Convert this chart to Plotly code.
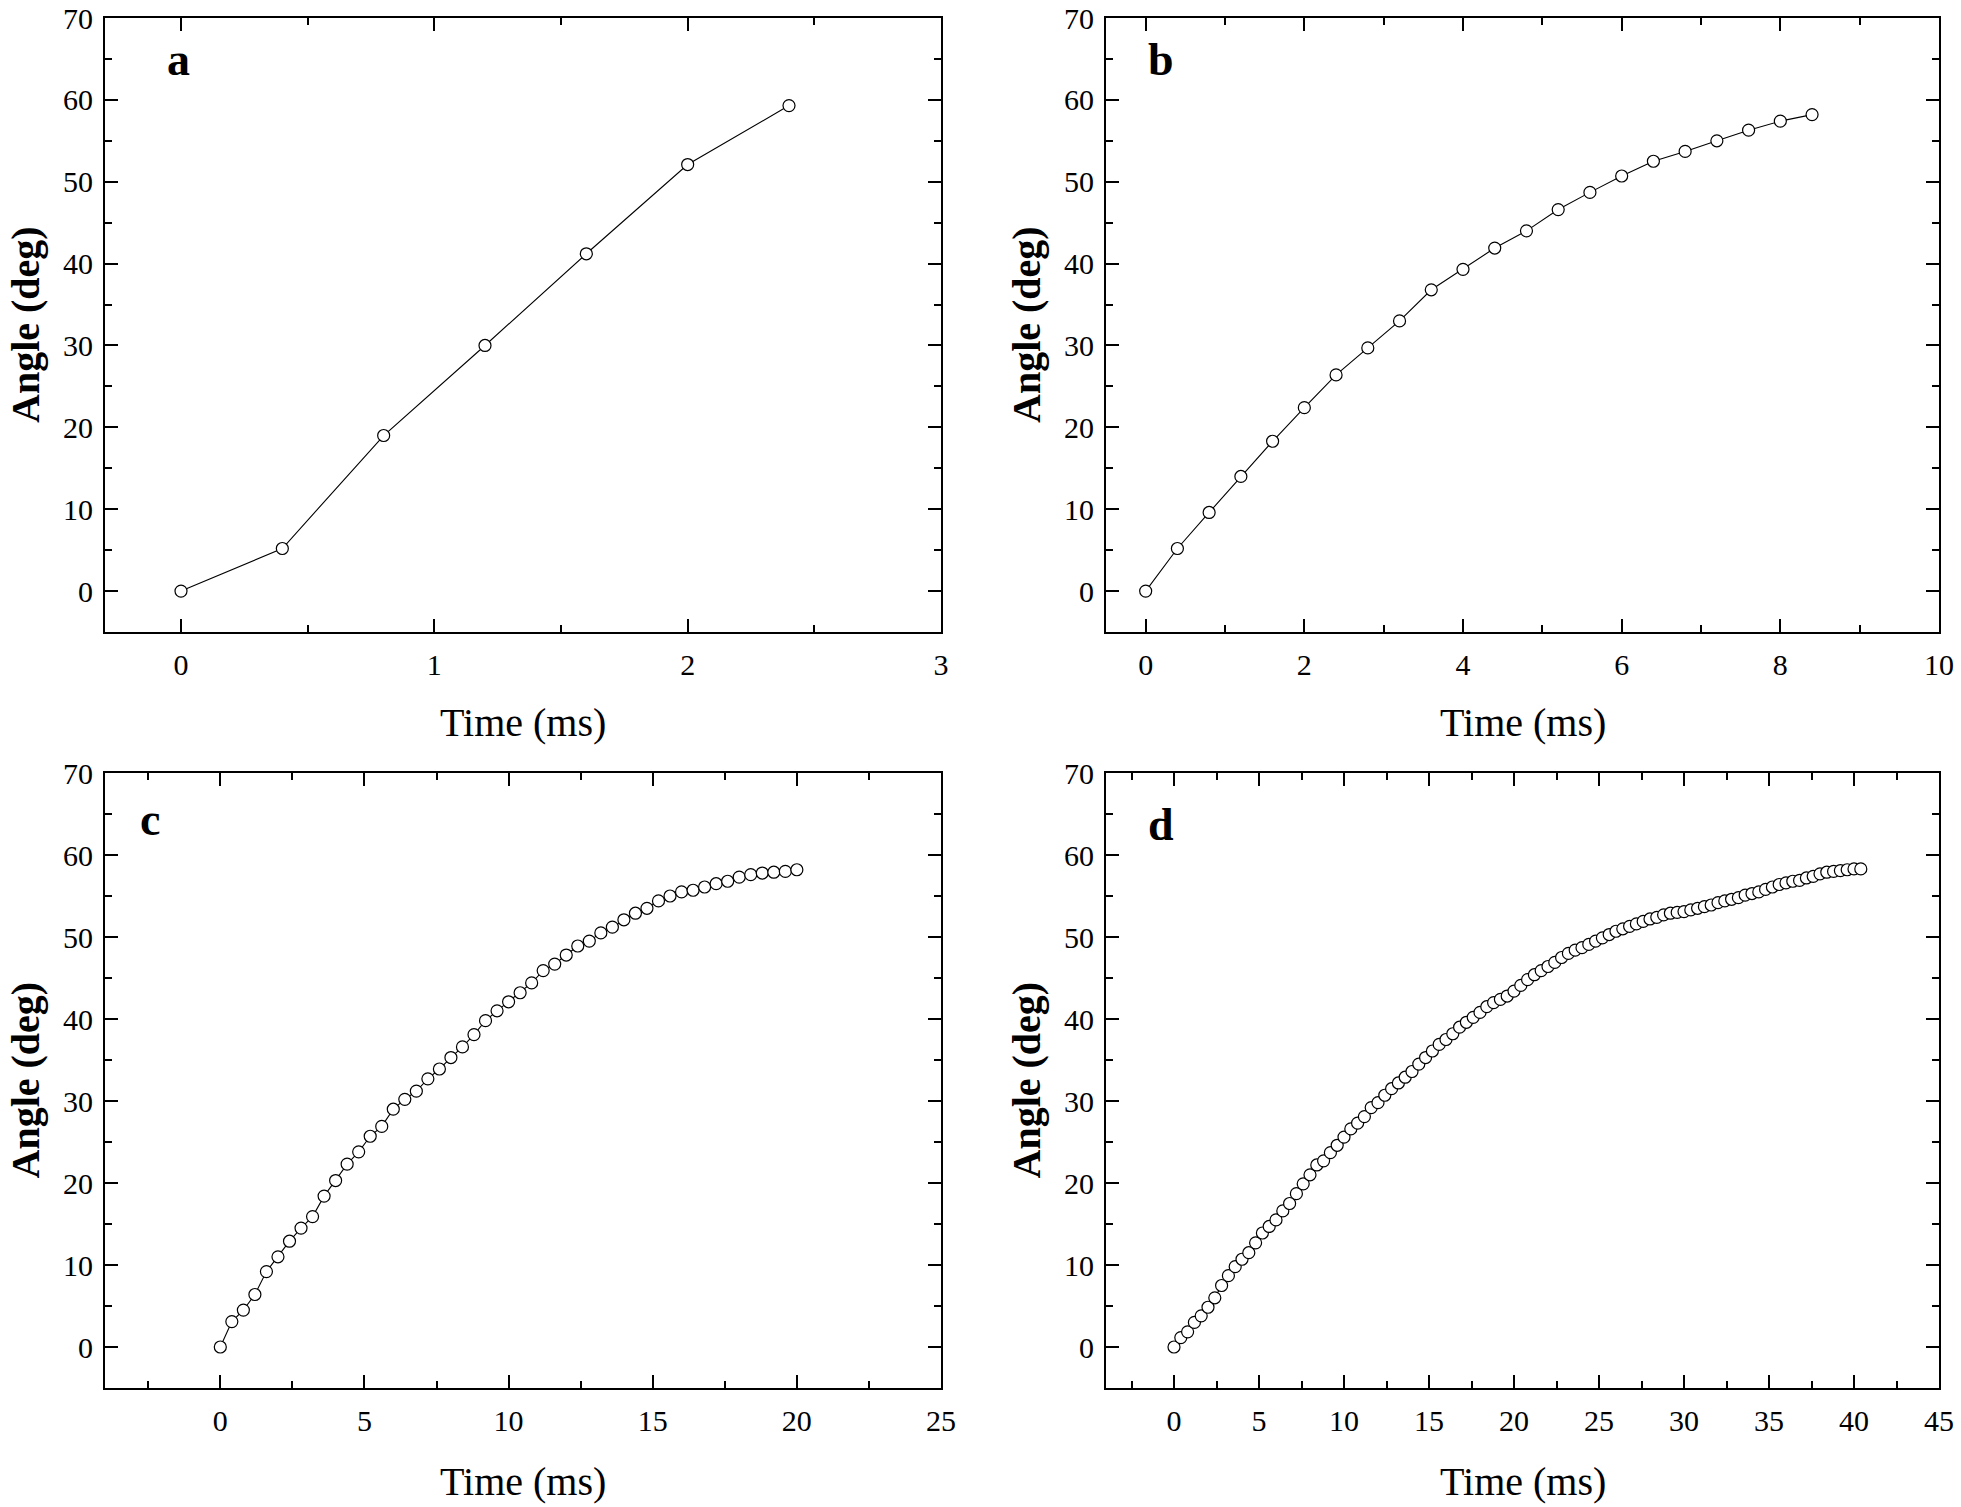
import plotly.graph_objects as go

# ---------------- data ----------------
a_time = [0, 0.4, 0.8, 1.2, 1.6, 2.0, 2.4]
a_angle = [0, 5.2, 19.0, 30.0, 41.2, 52.1, 59.3]

b_time = [0, 0.4, 0.8, 1.2, 1.6, 2.0, 2.4, 2.8, 3.2, 3.6, 4.0, 4.4, 4.8, 5.2,
          5.6, 6.0, 6.4, 6.8, 7.2, 7.6, 8.0, 8.4]
b_angle = [0, 5.2, 9.6, 14.0, 18.3, 22.4, 26.4, 29.7, 33.0, 36.8, 39.3, 41.9,
           44.0, 46.6, 48.7, 50.7, 52.5, 53.7, 55.0, 56.3, 57.4, 58.2]

c_time = [0, 0.4, 0.8, 1.2, 1.6, 2.0, 2.4, 2.8, 3.2, 3.6, 4.0, 4.4, 4.8, 5.2,
          5.6, 6.0, 6.4, 6.8, 7.2, 7.6, 8.0, 8.4, 8.8, 9.2, 9.6, 10.0, 10.4,
          10.8, 11.2, 11.6, 12.0, 12.4, 12.8, 13.2, 13.6, 14.0, 14.4, 14.8,
          15.2, 15.6, 16.0, 16.4, 16.8, 17.2, 17.6, 18.0, 18.4, 18.8, 19.2,
          19.6, 20.0]
c_angle = [0, 3.1, 4.5, 6.4, 9.2, 11.0, 12.9, 14.5, 15.9, 18.4, 20.3, 22.3,
           23.8, 25.7, 26.9, 29.0, 30.2, 31.2, 32.7, 33.9, 35.3, 36.6, 38.1,
           39.8, 41.0, 42.1, 43.2, 44.4, 45.9, 46.7, 47.8, 48.9, 49.5, 50.5,
           51.2, 52.1, 52.9, 53.5, 54.4, 55.0, 55.5, 55.7, 56.1, 56.5, 56.8,
           57.3, 57.6, 57.8, 57.9, 58.0, 58.2]

d_time = [0, 0.4, 0.8, 1.2, 1.6, 2.0, 2.4, 2.8, 3.2, 3.6, 4.0, 4.4, 4.8, 5.2,
          5.6, 6.0, 6.4, 6.8, 7.2, 7.6, 8.0, 8.4, 8.8, 9.2, 9.6, 10.0, 10.4,
          10.8, 11.2, 11.6, 12.0, 12.4, 12.8, 13.2, 13.6, 14.0, 14.4, 14.8,
          15.2, 15.6, 16.0, 16.4, 16.8, 17.2, 17.6, 18.0, 18.4, 18.8, 19.2,
          19.6, 20.0, 20.4, 20.8, 21.2, 21.6, 22.0, 22.4, 22.8, 23.2, 23.6,
          24.0, 24.4, 24.8, 25.2, 25.6, 26.0, 26.4, 26.8, 27.2, 27.6, 28.0,
          28.4, 28.8, 29.2, 29.6, 30.0, 30.4, 30.8, 31.2, 31.6, 32.0, 32.4,
          32.8, 33.2, 33.6, 34.0, 34.4, 34.8, 35.2, 35.6, 36.0, 36.4, 36.8,
          37.2, 37.6, 38.0, 38.4, 38.8, 39.2, 39.6, 40.0, 40.4]
d_angle = [0, 1.15, 1.85, 3.0, 3.8, 4.85, 6.0, 7.5, 8.7, 9.8, 10.7, 11.5,
           12.7, 13.9, 14.7, 15.5, 16.6, 17.5, 18.7, 19.9, 21.0, 22.2, 22.7,
           23.7, 24.6, 25.6, 26.6, 27.3, 28.1, 29.2, 29.8, 30.7, 31.5, 32.2,
           32.9, 33.6, 34.5, 35.3, 36.1, 36.9, 37.5, 38.2, 39.0, 39.6, 40.2,
           40.8, 41.5, 42.0, 42.4, 42.8, 43.4, 44.1, 44.8, 45.4, 45.9, 46.4,
           46.9, 47.5, 48.0, 48.4, 48.7, 49.1, 49.5, 49.9, 50.3, 50.7, 51.0,
           51.3, 51.6, 51.9, 52.2, 52.4, 52.7, 52.9, 53.0, 53.1, 53.3, 53.5,
           53.7, 53.9, 54.2, 54.4, 54.6, 54.8, 55.1, 55.3, 55.5, 55.8, 56.1,
           56.4, 56.6, 56.8, 56.9, 57.2, 57.4, 57.7, 57.9, 58.0, 58.1, 58.2,
           58.3, 58.3]

panel_letters = ["a", "b", "c", "d"]
x_ranges = [[-0.3, 3], [-0.5, 10], [-4, 25], [-4, 45]]
x_dticks = [1, 2, 5, 5]
x_minor = [0.5, 1, 2.5, 2.5]
y_range = [-5, 70]

# ---------------- layout geometry ----------------
W, H = 1961, 1507
col_dom = [[105 / W, 941 / W], [1106 / W, 1939 / W]]
row_dom = [[1 - 632 / H, 1 - 18 / H], [1 - 1388 / H, 1 - 773 / H]]
xtitle_gap = [90, 93]

FONT = "Liberation Serif, Times New Roman, serif"

fig = go.Figure()
series = [(a_time, a_angle), (b_time, b_angle), (c_time, c_angle), (d_time, d_angle)]

layout = dict(
    width=W, height=H,
    margin=dict(l=0, r=0, t=0, b=0, pad=0, autoexpand=False),
    paper_bgcolor="white", plot_bgcolor="white",
    showlegend=False,
    font=dict(family=FONT, color="black"),
)

annotations = []
for i, (t, ang) in enumerate(series):
    r, c = divmod(i, 2)
    n = "" if i == 0 else str(i + 1)
    fig.add_trace(go.Scatter(
        x=t, y=ang, mode="lines+markers",
        line=dict(color="black", width=1.1),
        marker=dict(symbol="circle", size=12, color="white",
                    line=dict(color="black", width=1.2)),
        xaxis="x" + n, yaxis="y" + n,
    ))
    axis_common = dict(
        showline=True, linecolor="black", linewidth=2, mirror="ticks",
        ticks="inside", ticklen=13, tickwidth=2, tickcolor="black",
        showgrid=False, zeroline=False, automargin=False,
        ticklabeloverflow="allow",
        tickfont=dict(family=FONT, size=30, color="black"),
        minor=dict(ticks="inside", ticklen=7, tickwidth=2, tickcolor="black",
                   showgrid=False),
    )
    layout["xaxis" + n] = dict(
        axis_common, domain=col_dom[c], anchor="y" + n,
        range=x_ranges[i], tick0=0, dtick=x_dticks[i],
        minor=dict(axis_common["minor"], dtick=x_minor[i], tick0=0),
        ticklabelstandoff=5,
    )
    layout["yaxis" + n] = dict(
        axis_common, domain=row_dom[r], anchor="x" + n,
        range=y_range, tick0=0, dtick=10,
        minor=dict(axis_common["minor"], dtick=5, tick0=0),
        ticklabelstandoff=4,
    )
    x0p, x1p = col_dom[c]
    y0p, y1p = row_dom[r]
    # x title
    annotations.append(dict(
        text="Time (ms)", xref="paper", yref="paper",
        x=(x0p + x1p) / 2, y=y0p - xtitle_gap[r] / H,
        xanchor="center", yanchor="middle",
        showarrow=False, font=dict(family=FONT, size=40, color="black"),
    ))
    # y title
    annotations.append(dict(
        text="<b>Angle (deg)</b>", xref="paper", yref="paper",
        x=x0p - 80 / W, y=(y0p + y1p) / 2, xanchor="center", yanchor="middle",
        textangle=-90, showarrow=False,
        font=dict(family=FONT, size=40, color="black"),
    ))
    # panel letter
    annotations.append(dict(
        text="<b>" + panel_letters[i] + "</b>", xref="paper", yref="paper",
        x=x0p + (73 if c == 0 else 55) / W - (28 / W if i == 2 else 0),
        y=y1p - (42 if r == 0 else 46) / H - (5 / H if i == 3 else 0),
        xanchor="center", yanchor="middle", showarrow=False,
        font=dict(family=FONT, size=46, color="black"),
    ))

layout["annotations"] = annotations
fig.update_layout(**layout)
fig.write_html(
    "out.html",
    config={"displayModeBar": False},
    post_script="document.body.style.margin='0';document.body.style.overflow='hidden';",
)
